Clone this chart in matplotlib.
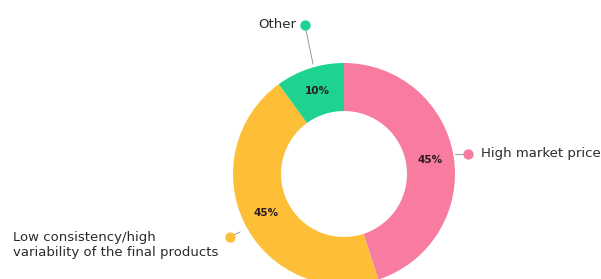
import matplotlib.pyplot as plt
import numpy as np

# donut data
labels = ['High market price', 'Low consistency/high\nvariability of the final products', 'Other']
values = [45, 45, 10]
colors = ['#F77CA0', '#FDBE38', '#1ED38F']

plt.rcParams['font.family'] = ['DejaVu Sans']

fig = plt.figure(figsize=(6.01, 2.79), dpi=100)
ax = fig.add_axes([0, 0, 1, 1])

cx, cy, r = 344, 279 - 174, 111
wedges, texts = ax.pie(values, colors=colors, startangle=90, counterclock=False,
                       center=(cx, cy), radius=r, wedgeprops=dict(width=48, linewidth=0),
                       frame=True)
ax.set_xlim(0, 601)
ax.set_ylim(0, 279)
ax.set_aspect('equal')
ax.axis('off')

# percent labels in the ring
for w, v in zip(wedges, values):
    ang = np.deg2rad((w.theta1 + w.theta2) / 2)
    ax.text(cx + 87 * np.cos(ang), cy + 87 * np.sin(ang), f'{v}%', ha='center', va='center',
            fontsize=7.5, fontweight='bold', color='#2b1a22')

# leader lines + dots: (dot xy, wedge edge xy, text xy, ha)
leaders = [
    ((468, 279 - 154), (455, 279 - 154), (481, 279 - 154), 'left'),
    ((230, 279 - 237), (240, 279 - 232), (13, 279 - 245), 'left'),
    ((305, 279 - 25), (313, 279 - 64), (296, 279 - 25), 'right'),
]
for lab, col, (dot, edge, txt, ha) in zip(labels, colors, leaders):
    ax.plot([dot[0], edge[0]], [dot[1], edge[1]], color='#8a8a8a', lw=0.6, zorder=1)
    ax.scatter([dot[0]], [dot[1]], s=55, color=col, zorder=3, linewidths=0)
    ax.text(txt[0], txt[1], lab, ha=ha, va='center', fontsize=9.5, color='#2a2a2a',
            linespacing=1.12)

fig.savefig('out.png', dpi=100)
